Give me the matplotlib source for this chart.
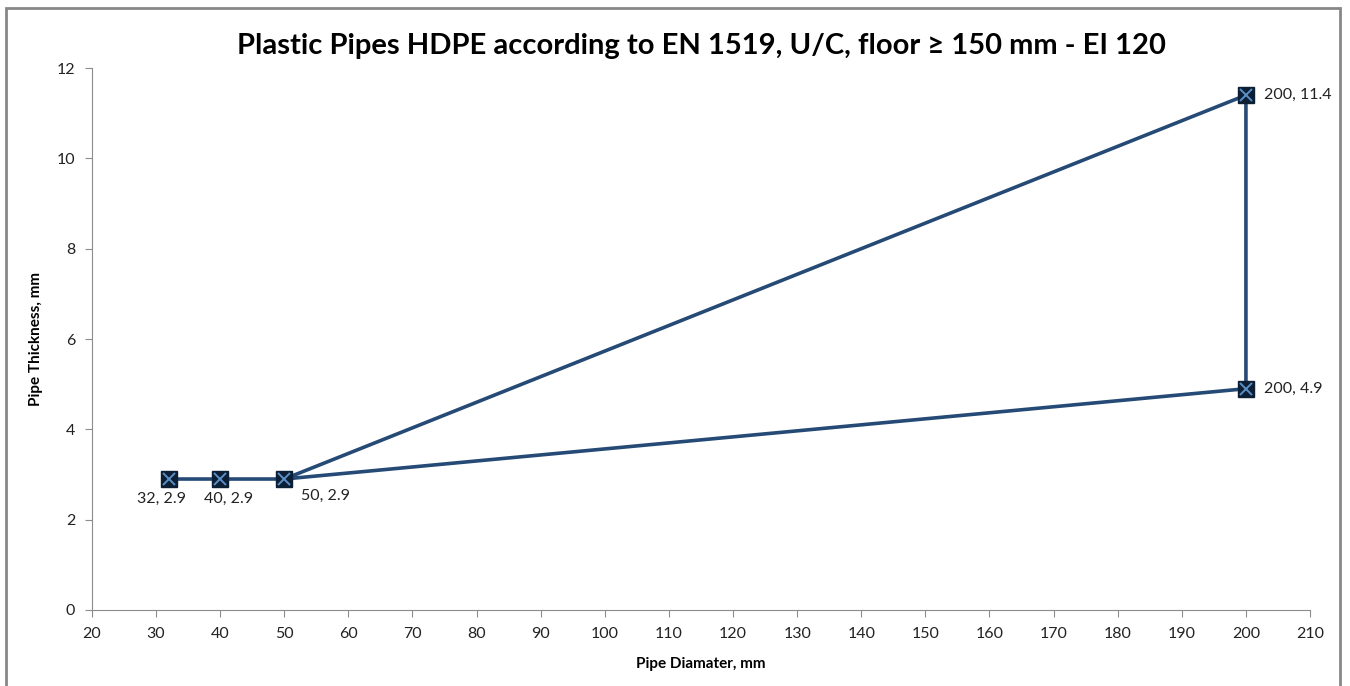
import matplotlib.pyplot as plt
from matplotlib.patches import Rectangle

plt.rcParams['font.family'] = ['Lato', 'DejaVu Sans']

# pipe diameter vs thickness, in drawing order (path closes back on 50mm)
diameter = [32, 40, 50, 200, 200, 50]
thickness = [2.9, 2.9, 2.9, 11.4, 4.9, 2.9]
labels = ["32, 2.9", "40, 2.9", "50, 2.9", "200, 11.4", "200, 4.9"]

line_col = "#254a75"
fig = plt.figure(figsize=(13.5, 6.86), dpi=100)
ax = fig.add_axes([0.0681, 0.1108, 0.9023, 0.79])

ax.plot(diameter, thickness, color=line_col, lw=2.6, zorder=2)
ax.plot(diameter[:5], thickness[:5], "s", ms=11, mfc="#0d1f35", mec="#0d1f35", zorder=3)
ax.plot(diameter[:5], thickness[:5], "x", ms=8, mew=1.4, color="#5b8fc6", zorder=4)

offsets = [(-5, -9, "center", "top"), (6, -9, "center", "top"), (12, -7, "left", "top"),
           (13, 0, "left", "center"), (13, 0, "left", "center")]
for i, lab in enumerate(labels):
    dx, dy, ha, va = offsets[i]
    ax.annotate(lab, (diameter[i], thickness[i]), xytext=(dx, dy), textcoords="offset points",
                ha=ha, va=va, fontsize=11.5, color="#222222")

ax.set_xlim(20, 210)
ax.set_ylim(0, 12)
ax.set_xticks(range(20, 211, 10))
ax.set_yticks(range(0, 13, 2))
for s in ["top", "right"]:
    ax.spines[s].set_visible(False)
for s in ["left", "bottom"]:
    ax.spines[s].set_color("#8c8c8c")
ax.tick_params(colors="#8c8c8c", labelcolor="#222222", labelsize=11.5, length=5,
               direction="out", pad=7)

ax.set_title("Plastic Pipes HDPE according to EN 1519, U/C, floor \u2265 150 mm - EI 120",
             fontsize=21, fontweight="bold", pad=10)
ax.set_xlabel("Pipe Diamater, mm", fontsize=11, fontweight="bold", labelpad=12)
ax.set_ylabel("Pipe Thickness, mm", fontsize=11, fontweight="bold", labelpad=10)

fig.patches.append(Rectangle((6 / 1350, -0.01), 1334 / 1350, 1 - 8 / 686 + 0.01,
                             transform=fig.transFigure, fill=False, ec="#888888", lw=2))

fig.savefig("out.png")
